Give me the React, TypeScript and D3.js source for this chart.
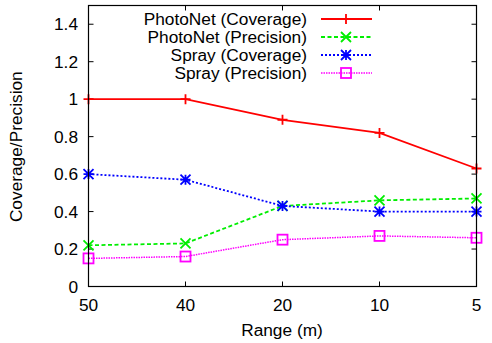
import React from "react";
import * as d3 from "d3";

const categories = ["50", "40", "20", "10", "5"];
const photoNetCoverage = [1.0, 1.0, 0.89, 0.82, 0.63];
const photoNetPrecision = [0.22, 0.23, 0.43, 0.46, 0.47];
const sprayCoverage = [0.6, 0.57, 0.43, 0.4, 0.4];
const sprayPrecision = [0.15, 0.16, 0.25, 0.27, 0.26];
const yTicks = [0, 0.2, 0.4, 0.6, 0.8, 1, 1.2, 1.4];
const seriesNames = ["PhotoNet (Coverage)", "PhotoNet (Precision)", "Spray (Coverage)", "Spray (Precision)"];

const W = 492, H = 343;
const L = 88.5, R = 476.5, T = 5.5, B = 286.5;
const FONT = "'Liberation Sans', Arial, Helvetica, sans-serif";
const FS = 17.3;

type Marker = "plus" | "cross" | "star" | "square";
const series = [
  { name: seriesNames[0], values: photoNetCoverage, color: "#ff0000", dash: "", marker: "plus" as Marker, width: 1.8 },
  { name: seriesNames[1], values: photoNetPrecision, color: "#00ee00", dash: "4,2.5", marker: "cross" as Marker, width: 1.8 },
  { name: seriesNames[2], values: sprayCoverage, color: "#0000ff", dash: "2,2", marker: "star" as Marker, width: 1.8 },
  { name: seriesNames[3], values: sprayPrecision, color: "#ff00ff", dash: "1.5,1", marker: "square" as Marker, width: 1.5 },
];

function MarkerShape({ type, x, y, color }: { type: Marker; x: number; y: number; color: string }) {
  const s = 5;
  if (type === "plus")
    return <path d={`M${x - s},${y}H${x + s}M${x},${y - s}V${y + s}`} stroke={color} strokeWidth={1.8} fill="none" />;
  if (type === "cross")
    return <path d={`M${x - s},${y - s}L${x + s},${y + s}M${x - s},${y + s}L${x + s},${y - s}`} stroke={color} strokeWidth={1.8} fill="none" />;
  if (type === "star")
    return (
      <path
        d={`M${x - s},${y - s}L${x + s},${y + s}M${x - s},${y + s}L${x + s},${y - s}M${x - s},${y}H${x + s}M${x},${y - s}V${y + s}`}
        stroke={color}
        strokeWidth={1.8}
        fill="none"
      />
    );
  return <rect x={x - s} y={y - s} width={2 * s} height={2 * s} stroke={color} strokeWidth={1.8} fill="none" />;
}

export default function App() {
  const x = d3.scalePoint<string>().domain(categories).range([L, R]);
  const y = d3.scaleLinear().domain([0, 1.5]).range([B, T]);
  const line = d3
    .line<number>()
    .x((_, i) => x(categories[i]) as number)
    .y((d) => y(d));

  const legX1 = 321, legX2 = 372, legTextX = 307;
  const legY = (i: number) => 19 + i * 18;

  return (
    <svg width={W} height={H} style={{ position: "absolute", left: 0, top: 0, background: "#fff" }} fontFamily={FONT}>
      <rect x={0} y={0} width={W} height={H} fill="#fff" />
      {yTicks.map((t) => (
        <g key={"y" + t}>
          <line x1={L} x2={L + 5} y1={y(t)} y2={y(t)} stroke="#000" />
          <line x1={R - 5} x2={R} y1={y(t)} y2={y(t)} stroke="#000" />
          <text x={78} y={y(t) + 6.2} textAnchor="end" fontSize={FS} fill="#000">
            {d3.format("~g")(t)}
          </text>
        </g>
      ))}
      {categories.map((c) => (
        <g key={"x" + c}>
          <line x1={x(c)} x2={x(c)} y1={B} y2={B - 5} stroke="#000" />
          <line x1={x(c)} x2={x(c)} y1={T} y2={T + 5} stroke="#000" />
          <text x={x(c)} y={311} textAnchor="middle" fontSize={FS} fill="#000">
            {c}
          </text>
        </g>
      ))}
      {series.map((s) => (
        <g key={s.name}>
          <path d={line(s.values) || ""} fill="none" stroke={s.color} strokeWidth={s.width} strokeDasharray={s.dash || undefined} />
          {s.values.map((v, i) => (
            <MarkerShape key={i} type={s.marker} x={x(categories[i]) as number} y={y(v)} color={s.color} />
          ))}
        </g>
      ))}
      {series.map((s, i) => (
        <g key={"leg" + s.name}>
          <text x={legTextX} y={legY(i) + 6.3} textAnchor="end" fontSize={FS} fill="#000">
            {s.name}
          </text>
          <line x1={legX1} x2={legX2} y1={legY(i)} y2={legY(i)} stroke={s.color} strokeWidth={s.width} strokeDasharray={s.dash || undefined} />
          <MarkerShape type={s.marker} x={(legX1 + legX2) / 2 - 0.5} y={legY(i)} color={s.color} />
        </g>
      ))}
      <rect x={L} y={T} width={R - L} height={B - T} fill="none" stroke="#000" strokeWidth={1.2} />
      <text x={282} y={336} textAnchor="middle" fontSize={FS} fill="#000">
        Range (m)
      </text>
      <text transform={`translate(22,${146.7}) rotate(-90)`} textAnchor="middle" fontSize={FS} fill="#000">
        Coverage/Precision
      </text>
    </svg>
  );
}
